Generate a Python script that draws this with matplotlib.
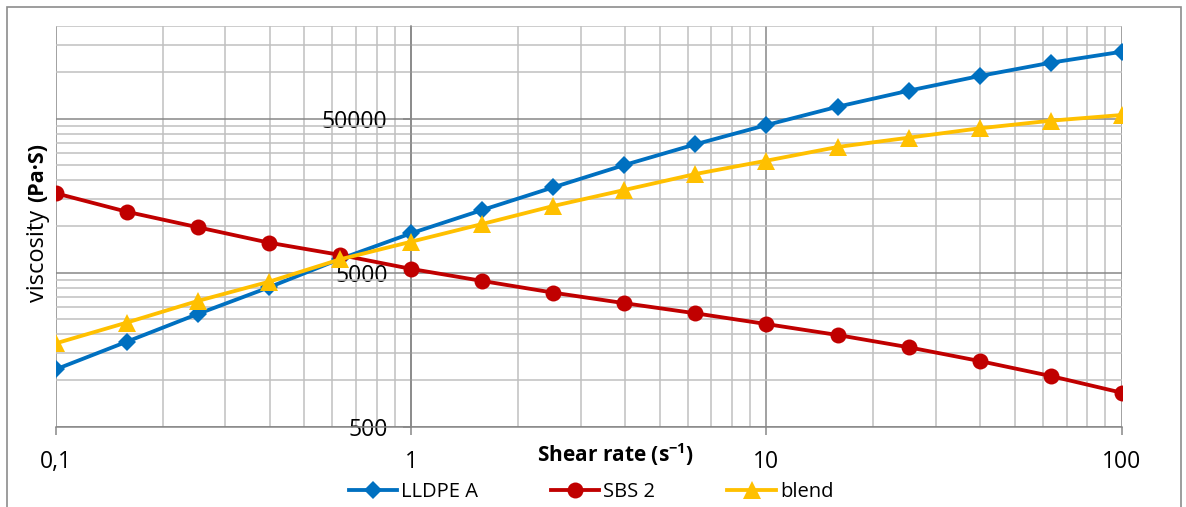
import matplotlib
matplotlib.use("Agg")
import matplotlib.pyplot as plt
from matplotlib.ticker import FixedLocator, FixedFormatter, NullFormatter
from matplotlib.patches import Rectangle

plt.rcParams["font.family"] = ["Open Sans", "DejaVu Sans"]
plt.rcParams["mathtext.fontset"] = "custom"
plt.rcParams["mathtext.rm"] = "Open Sans"
plt.rcParams["mathtext.bf"] = "Open Sans:bold"

# shear rate (1/s)
shear_rate = [0.1, 0.158, 0.251, 0.398, 0.631, 1, 1.585, 2.512, 3.981, 6.31,
              10, 15.85, 25.12, 39.81, 63.1, 100]

# viscosity (Pa.s)
lldpe_a = [1180, 1780, 2700, 4020, 6140, 9020, 12770, 17930, 25020, 34110,
           45500, 59800, 76000, 94700, 115500, 136100]
sbs_2 = [16390, 12450, 9860, 7830, 6520, 5290, 4420, 3710, 3170, 2725,
         2320, 1970, 1640, 1335, 1067, 831]
blend = [1740, 2370, 3280, 4370, 6110, 7950, 10360, 13560, 17220, 21870,
         26690, 32760, 37640, 43320, 48530, 52840]

x_ticks = [0.1, 1, 10, 100]
x_labels = ["0,1", "1", "10", "100"]
y_ticks = [500, 5000, 50000]
y_labels = ["500", "5000", "50000"]

major_grid = "#878787"
minor_grid = "#c0c0c0"

fig = plt.figure(figsize=(11.86, 5.07), dpi=100)
ax = fig.add_axes([56 / 1186, 1 - 426.7 / 507, (1121.7 - 56) / 1186, (426.7 - 26) / 507])

ax.plot(shear_rate, lldpe_a, color="#0070c0", lw=2.75, marker="D", ms=9, mew=0,
        label="LLDPE A", zorder=3)
ax.plot(shear_rate, sbs_2, color="#c00000", lw=2.75, marker="o", ms=11.5, mew=0,
        label="SBS 2", zorder=3)
ax.plot(shear_rate, blend, color="#ffc000", lw=2.75, marker="^", ms=13, mew=0,
        label="blend", zorder=4)

ax.set_xscale("log")
ax.set_yscale("log")
ax.set_xlim(0.1, 100)
ax.set_ylim(500, 200000)

# Excel-style log grid: minor lines at 2..9 x each major value
x_minor = [m * k for m in [0.1, 1, 10] for k in range(2, 10)]
y_minor = [m * k for m in [500, 5000, 50000] for k in range(2, 10)]
y_minor = [v for v in y_minor if v <= 200000]

ax.xaxis.set_major_locator(FixedLocator(x_ticks))
ax.xaxis.set_major_formatter(FixedFormatter(x_labels))
ax.xaxis.set_minor_locator(FixedLocator(x_minor))
ax.xaxis.set_minor_formatter(NullFormatter())
ax.yaxis.set_major_locator(FixedLocator(y_ticks))
ax.yaxis.set_major_formatter(FixedFormatter(y_labels))
ax.yaxis.set_minor_locator(FixedLocator(y_minor))
ax.yaxis.set_minor_formatter(NullFormatter())

ax.grid(which="minor", color=minor_grid, lw=1.1, zorder=0)
ax.grid(which="major", color=major_grid, lw=1.1, zorder=1)
ax.set_axisbelow(True)

for s in ["top", "right"]:
    ax.spines[s].set_visible(False)
ax.spines["left"].set_position(("data", 1))
ax.spines["left"].set_color(major_grid)
ax.spines["bottom"].set_color(major_grid)
ax.spines["left"].set_linewidth(1.1)
ax.spines["bottom"].set_linewidth(1.1)

ax.tick_params(which="major", length=6, width=1.1, color=major_grid,
               labelsize=16.5, labelcolor="black")
ax.tick_params(axis="x", which="major", pad=11)
ax.tick_params(axis="y", which="major", pad=11)
ax.tick_params(which="minor", length=0)

# axis titles
fig.text(616 / 1186, 1 - 455 / 507, r"Shear rate (s$^{\mathbf{-1}}$)", fontsize=15,
         fontweight="bold", ha="center", va="center")
fig.text(38 / 1186, 1 - 256 / 507, "viscosity", fontsize=17, rotation=90,
         ha="center", va="center")
fig.text(38 / 1186, 1 - 172 / 507, "(Pa\u00b7S)", fontsize=15.5, fontweight="bold",
         rotation=90, ha="center", va="center")

fig.legend(loc="center", bbox_to_anchor=(591 / 1186, 1 - 492 / 507), ncol=3,
           frameon=False, fontsize=14.5, handlelength=2.4, handletextpad=0.2,
           columnspacing=3.6, borderpad=0)

# chart border
fig.patches.append(Rectangle((7 / 1186, -0.1), (1181 - 7) / 1186, 1.1 - 7 / 507,
                             transform=fig.transFigure, fill=False,
                             edgecolor="#8c8c8c", lw=1.2))

fig.savefig("out.png", dpi=100)
